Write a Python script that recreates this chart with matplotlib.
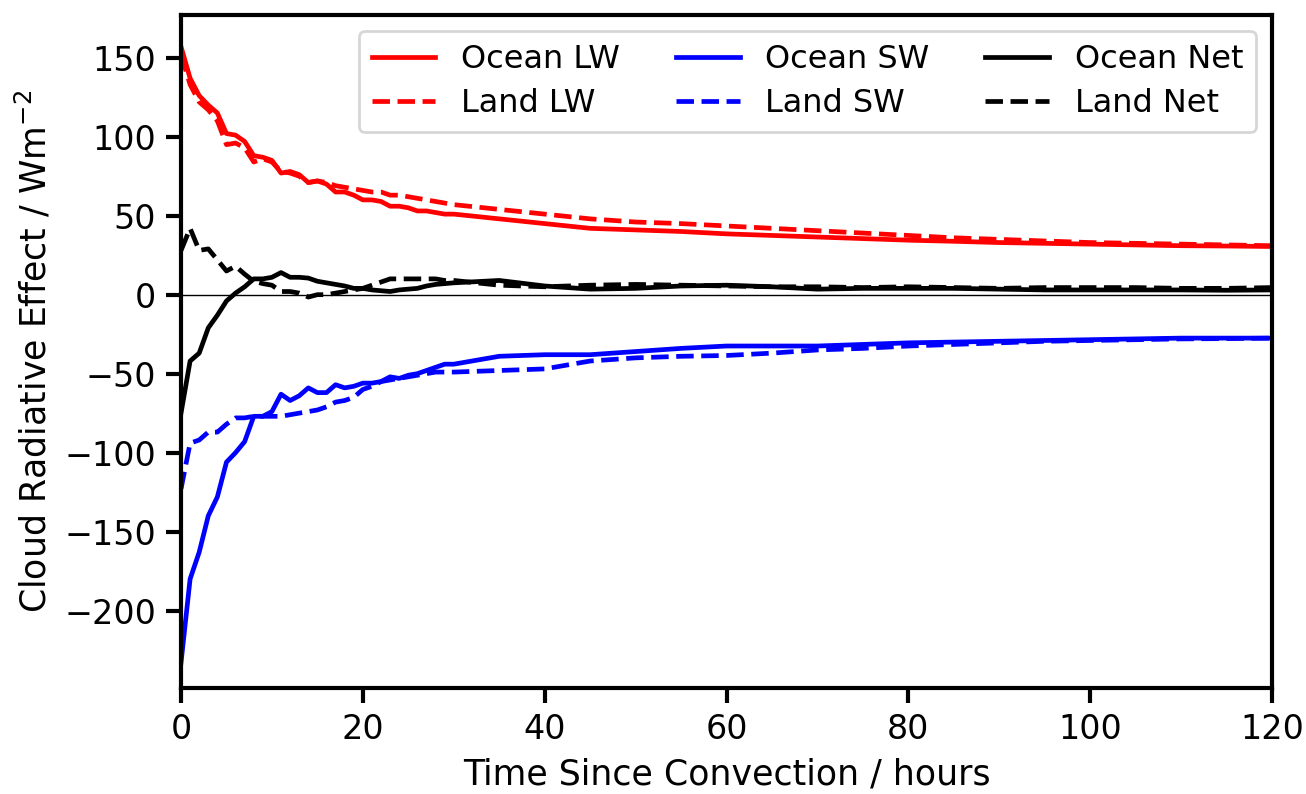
import matplotlib
matplotlib.use("Agg")
import matplotlib.pyplot as plt

# hours since convection: hourly to 30 h, then every 5 h
hours = list(range(0, 31)) + list(range(35, 121, 5))

ocean_lw = [157, 137, 126, 120, 115, 102, 101, 97, 88, 87, 85, 77, 78, 76, 71, 72,
            70, 65, 65, 63, 60, 60, 59, 56, 56, 55, 53, 53, 52, 51, 51,
            48, 45, 42, 41, 40, 38.5, 37.5, 36.5, 35.5, 34.5, 33.8, 33, 32.5, 32,
            31.5, 31, 30.8, 30.5]
land_lw = [152, 133, 122, 117, 110, 95, 96, 93, 84, 86, 84, 78, 77, 75, 71, 72,
           71, 69, 68, 67, 66, 65, 65, 63, 63, 62, 61, 60, 59, 58, 57,
           54, 51, 48, 46, 45, 43.5, 42, 40.5, 39, 37.5, 36, 35, 34, 33,
           32.5, 32, 31.5, 31]
ocean_sw = [-233, -180, -163, -140, -128, -106, -100, -93, -77, -77, -74, -63, -67,
            -64, -59, -62, -62, -57, -59, -58, -56, -56, -55, -52, -53, -51, -50,
            -48, -46, -44, -44,
            -39, -38, -38, -36, -34, -32.5, -32.5, -32.5, -31.5, -30.5, -30, -29.5,
            -29, -28.5, -28, -27.5, -27.5, -27.5]
land_sw = [-123, -94, -92, -87, -87, -82, -78, -78, -77, -77, -77, -77, -76, -75,
           -74, -73, -71, -68, -67, -65, -60, -58, -55, -54, -53, -52, -51, -50,
           -49, -49, -49,
           -48, -47, -42, -40, -39, -38.5, -37, -35, -34, -32.5, -31.5, -30.5,
           -29.5, -29, -28.5, -28, -27.8, -27.5]
ocean_net = [-75, -42, -37, -21, -13, -4, 1, 5, 10, 10, 11, 14, 11, 11, 10.5, 8.5,
             7.5, 6.5, 5.5, 4, 4, 3, 2.5, 2, 3, 3.5, 4, 5.5, 6.5, 7, 7.5,
             9, 5.5, 3.5, 4, 5.5, 6, 5, 3.5, 4, 4, 4, 3.5, 3, 3, 3, 3, 2.8, 3]
land_net = [28, 42, 28, 29, 22, 15, 18, 13, 8.5, 7, 6, 2, 2, 1, -1.5, 0, 0, 1, 2,
            3, 4, 6, 8, 10, 10, 10, 10, 10, 10, 9, 9,
            6, 5, 6, 6.5, 6, 5.5, 5, 5, 4.5, 5, 4.5, 4, 4.5, 4.5, 4.5, 4, 4, 4.5]

plt.rcParams['font.family'] = ['DejaVu Sans']

fig = plt.figure(figsize=(6.53, 3.97), dpi=200)
ax = fig.add_axes([0.1386, 0.1335, 0.8354, 0.8475])

ax.plot(hours, ocean_lw, color='red', ls='-', lw=1.7, label='Ocean LW')
ax.plot(hours, land_lw, color='red', ls='--', lw=1.7, label='Land LW')
ax.plot(hours, ocean_sw, color='blue', ls='-', lw=1.7, label='Ocean SW')
ax.plot(hours, land_sw, color='blue', ls='--', lw=1.7, label='Land SW')
ax.plot(hours, ocean_net, color='black', ls='-', lw=1.7, label='Ocean Net')
ax.plot(hours, land_net, color='black', ls='--', lw=1.7, label='Land Net')
ax.axhline(0, color='black', lw=0.5)

ax.set_xlim(0, 120)
ax.set_ylim(-249, 177)
ax.set_xticks([0, 20, 40, 60, 80, 100, 120])
ax.set_yticks([-200, -150, -100, -50, 0, 50, 100, 150])

for s in ax.spines.values():
    s.set_linewidth(1.5)
ax.tick_params(labelsize=12, length=5.5, width=1.5)
ax.set_xlabel('Time Since Convection / hours', fontsize=12.5)
ax.set_ylabel('Cloud Radiative Effect / Wm$^{-2}$', fontsize=12.5)

ax.legend(ncol=3, loc='upper right', fontsize=11.5, handlelength=2.0,
          columnspacing=1.75, borderaxespad=0.5, labelspacing=0.42)

fig.savefig('out.png', dpi=200)
